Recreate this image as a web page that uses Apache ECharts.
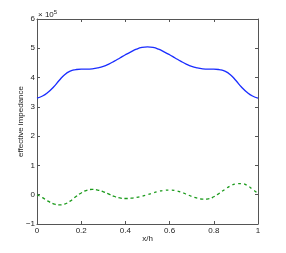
<!DOCTYPE html>
<html><head><meta charset="utf-8">
<script src="https://cdn.jsdelivr.net/npm/echarts@6/dist/echarts.min.js"></script>
<style>html,body{margin:0;padding:0;background:#fff}#c{width:286px;height:253px}</style>
</head><body><div id="c"></div>
<script>
const xValues = [0,0.025,0.05,0.075,0.1,0.125,0.15,0.175,0.2,0.225,0.25,0.275,0.3,0.325,0.35,0.375,0.4,0.425,0.45,0.475,0.5,0.525,0.55,0.575,0.6,0.625,0.65,0.675,0.7,0.725,0.75,0.775,0.8,0.825,0.85,0.875,0.9,0.925,0.95,0.975,1.0];
const blueValues = [3.30,3.37,3.50,3.68,3.90,4.10,4.22,4.27,4.29,4.29,4.30,4.33,4.38,4.46,4.56,4.67,4.78,4.88,4.97,5.03,5.05,5.03,4.97,4.88,4.78,4.67,4.56,4.46,4.38,4.33,4.30,4.29,4.29,4.27,4.22,4.10,3.90,3.68,3.50,3.37,3.30];
const greenValues = [0.0,-0.10,-0.22,-0.31,-0.35,-0.32,-0.22,-0.07,0.06,0.15,0.18,0.16,0.10,0.02,-0.06,-0.11,-0.13,-0.12,-0.09,-0.05,0.0,0.06,0.11,0.15,0.16,0.14,0.09,0.02,-0.06,-0.12,-0.15,-0.14,-0.07,0.05,0.18,0.30,0.37,0.38,0.32,0.19,0.04];
const xTicks = [0,0.2,0.4,0.6,0.8,1];
const yTicks = [-1,0,1,2,3,4,5,6];
const font = 'Liberation Sans, Arial, sans-serif';
const axisCol = '#555';
const chart = echarts.init(document.getElementById('c'));
const xa = (show) => ({type:'value',min:0,max:1,interval:0.2,
  axisLine:{show:true,onZero:false,lineStyle:{color:axisCol,width:1}},
  axisTick:{show:true,inside:true,length:3,lineStyle:{color:axisCol}},
  axisLabel:{show:show,color:'#222',fontSize:8,fontFamily:font,margin:3,
    formatter:v=>xTicks.includes(+v.toFixed(1))?String(+v.toFixed(1)):''},
  splitLine:{show:false}});
const ya = (show) => ({type:'value',min:-1,max:6,interval:1,
  axisLine:{show:true,onZero:false,lineStyle:{color:axisCol,width:1}},
  axisTick:{show:true,inside:true,length:3,lineStyle:{color:axisCol}},
  axisLabel:{show:show,color:'#222',fontSize:8,fontFamily:font,margin:2,
    formatter:v=>yTicks.includes(v)?(v<0?'\u2212'+(-v):String(v)):''},
  splitLine:{show:false}});
const xb = xa(true); xb.position='bottom';
xb.name='x/h'; xb.nameLocation='middle'; xb.nameGap=11; xb.nameMoveOverlap=false; xb.nameTextStyle={fontSize:8,fontFamily:font,color:'#222'};
const xt = xa(false); xt.position='top';
const yl = ya(true); yl.position='left';
yl.name='effective impedance'; yl.nameLocation='middle'; yl.nameGap=12; yl.nameMoveOverlap=false; yl.nameTextStyle={fontSize:8,fontFamily:font,color:'#222'};
const yr = ya(false); yr.position='right';
chart.setOption({
  animation:false,
  grid:{left:37,right:28,top:19,bottom:29,containLabel:false,outerBoundsMode:'none'},
  xAxis:[xb,xt],
  yAxis:[yl,yr],
  graphic:[{type:'text',left:38,top:9,style:{rich:{a:{fontSize:8,fontFamily:font,fill:'#222'},b:{fontSize:6,fontFamily:font,fill:'#222',verticalAlign:'top',padding:[0,0,6,0]}},text:'{a|\u00d7 10}{b|5}',fill:'#222'}}],
  series:[
    {type:'line',data:xValues.map((x,i)=>[x,blueValues[i]]),showSymbol:false,smooth:true,lineStyle:{color:'#1a2dff',width:1.3},xAxisIndex:0,yAxisIndex:0},
    {type:'line',data:xValues.map((x,i)=>[x,greenValues[i]]),showSymbol:false,smooth:true,lineStyle:{color:'#1a9a1a',width:1.3,type:[3,3]},xAxisIndex:0,yAxisIndex:0}
  ]
});
</script></body></html>
